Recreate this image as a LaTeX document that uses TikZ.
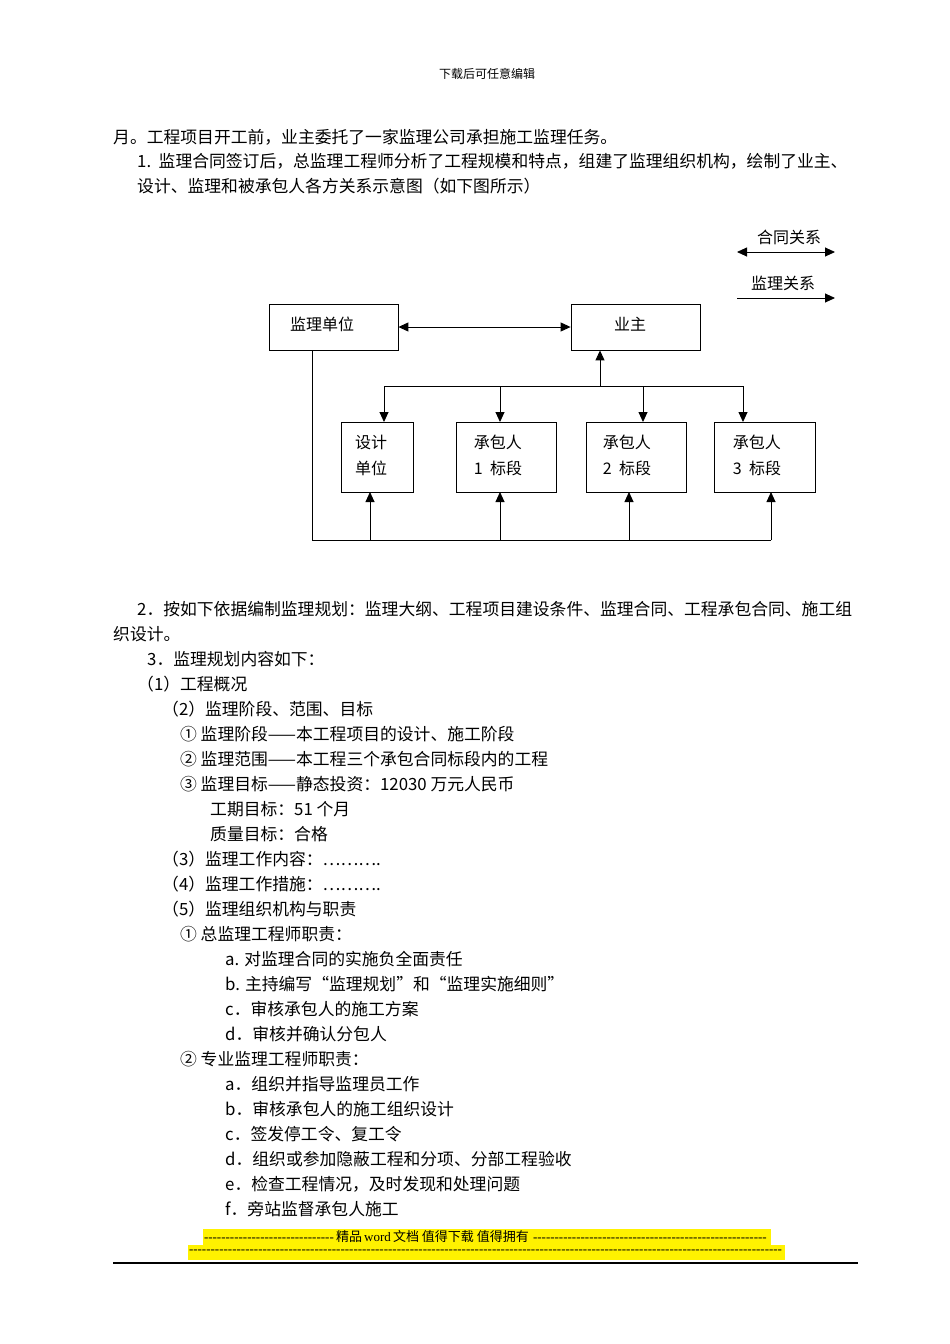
\documentclass[tikz,border=0pt]{standalone}
\usepackage{fontspec}
\setmainfont{Liberation Serif}
\newfontfamily\cjk{Noto Sans CJK SC}
\usetikzlibrary{arrows.meta}
\begin{document}
\begin{tikzpicture}[x=1pt,y=-1pt,
  box/.style={draw,thick,inner sep=0pt},
  txt/.style={anchor=west,inner sep=0pt,font=\cjk\fontsize{16.8}{16.8}\selectfont},
  dtxt/.style={inner sep=0pt,font=\cjk\fontsize{16}{16}\selectfont},
  ln/.style={line width=0.9pt},
  arr/.style={ln,-{Triangle[length=10pt,width=9pt]}},
  darr/.style={ln,{Triangle[length=10pt,width=9pt]}-{Triangle[length=10pt,width=9pt]}}]
\useasboundingbox[fill=white] (0,0) rectangle (950,1344);
\node[dtxt,font=\cjk\fontsize{12}{12}\selectfont] (hdr) at (487,74) {下载后可任意编辑};
\node[txt] (l1) at (113,137) {月。工程项目开工前，业主委托了一家监理公司承担施工监理任务。};
\node[txt] (l2) at (137,161) {1.\ \ 监理合同签订后，总监理工程师分析了工程规模和特点，组建了监理组织机构，绘制了业主、};
\node[txt] (l3) at (137,186) {设计、监理和被承包人各方关系示意图（如下图所示）};
% diagram
\node[box,minimum width=129pt,minimum height=46pt] (jl) at (333.5,327) {};
\node[dtxt] at (322,324) {监理单位};
\node[box,minimum width=129pt,minimum height=46pt] (yz) at (635.5,327) {};
\node[dtxt] at (630,324) {业主};
\node[box,minimum width=72pt,minimum height=70pt] (sj) at (377,457) {};
\node[dtxt,align=left] at (371,455) {设计\\[10pt]单位};
\node[box,minimum width=100pt,minimum height=70pt] (c1) at (506,457) {};
\node[dtxt,align=left] at (498,455) {承包人\\[10pt]1\ \ 标段};
\node[box,minimum width=100pt,minimum height=70pt] (c2) at (636,457) {};
\node[dtxt,align=left] at (627,455) {承包人\\[10pt]2\ \ 标段};
\node[box,minimum width=101pt,minimum height=70pt] (c3) at (765,457) {};
\node[dtxt,align=left] at (757,455) {承包人\\[10pt]3\ \ 标段};
\draw[darr] (jl.east) -- (yz.west);
\coordinate (tl) at (384,386); \coordinate (tr) at (743,386);
\draw[ln] (tl) -- (tr);
\draw[arr] (600,386) -- (yz.south -| 600,0);
\draw[arr] (tl) -- (384,422);
\draw[arr] (500,386) -- (500,422);
\draw[arr] (643,386) -- (643,422);
\draw[arr] (tr) -- (743,422);
\coordinate (bl) at (312,540);
\draw[ln] (jl.south -| bl) -- (bl) -- (771,540);
\draw[arr] (370,540) -- (370,492);
\draw[arr] (500,540) -- (500,492);
\draw[arr] (629,540) -- (629,492);
\draw[arr] (771,540) -- (771,492);
% legend
\node[dtxt] (lg1) at (789,237) {合同关系};
\coordinate (a1) at (737,252); \coordinate (a2) at (835,252);
\draw[darr] (a1) -- (a2);
\node[dtxt] (lg2) at (783,283) {监理关系};
\coordinate (b1) at (737,298); \coordinate (b2) at (835,298);
\draw[arr] (b1) -- (b2);
% text
\node[txt] at (137,609) {2．按如下依据编制监理规划：监理大纲、工程项目建设条件、监理合同、工程承包合同、施工组};
\node[txt] at (113,634) {织设计。};
\node[txt] at (147,659) {3．监理规划内容如下：};
\node[txt] at (137,684) {（1）工程概况};
\node[txt] at (162,709) {（2）监理阶段、范围、目标};
\node[txt] at (180,734) {① 监理阶段——本工程项目的设计、施工阶段};
\node[txt] at (180,759) {② 监理范围——本工程三个承包合同标段内的工程};
\node[txt] at (180,784) {③ 监理目标——静态投资：12030 万元人民币};
\node[txt] at (210,809) {工期目标：51 个月};
\node[txt] at (210,834) {质量目标：合格};
\node[txt] at (162,859) {（3）监理工作内容：……….};
\node[txt] at (162,884) {（4）监理工作措施：……….};
\node[txt] at (162,909) {（5）监理组织机构与职责};
\node[txt] at (180,934) {① 总监理工程师职责：};
\node[txt] at (225,959) {a. 对监理合同的实施负全面责任};
\node[txt] at (225,984) {b. 主持编写“监理规划”和“监理实施细则”};
\node[txt] at (225,1009) {c．审核承包人的施工方案};
\node[txt] at (225,1034) {d．审核并确认分包人};
\node[txt] at (180,1059) {② 专业监理工程师职责：};
\node[txt] at (225,1084) {a．组织并指导监理员工作};
\node[txt] at (225,1109) {b．审核承包人的施工组织设计};
\node[txt] at (225,1134) {c．签发停工令、复工令};
\node[txt] at (225,1159) {d．组织或参加隐蔽工程和分项、分部工程验收};
\node[txt] at (225,1184) {e．检查工程情况，及时发现和处理问题};
\node[txt] at (225,1209) {f．旁站监督承包人施工};
% footer
\fill[yellow] (203,1229) rectangle (771,1245);
\fill[yellow] (188,1245) rectangle (785,1260);
\node[inner sep=0pt,font=\fontsize{13}{13}\selectfont] (f1) at (487,1237) {\hbox to 566pt{\hbox to 132pt{\leaders\hbox{-}\hfill}{\cjk 精品}\,word\,{\cjk 文档 值得下载 值得拥有}\leaders\hbox{-}\hfill}};
\node[inner sep=0pt,font=\fontsize{13}{13}\selectfont] (f2) at (486.5,1252) {\hbox to 595pt{\leaders\hbox{-}\hfill}};
\draw[line width=1.2pt] (113,1263) -- (858,1263);
\end{tikzpicture}
\end{document}
